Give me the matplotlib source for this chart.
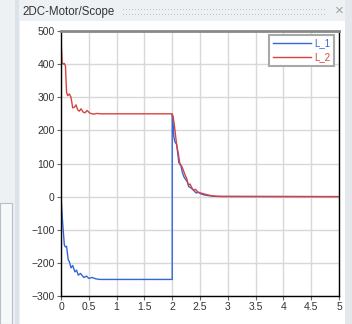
import numpy as np
import matplotlib
matplotlib.use("Agg")
import matplotlib.pyplot as plt
from matplotlib.patches import Rectangle

plt.rcParams["font.family"] = ["Liberation Sans", "DejaVu Sans"]

# L_1 (blue) current
t1 = [0, 0.03, 0.06, 0.08, 0.10, 0.13, 0.15, 0.18, 0.21, 0.25, 0.28, 0.31, 0.35,
      0.41, 0.46, 0.50, 0.56, 0.62, 0.70, 2.0, 2.0, 2.01, 2.03, 2.05, 2.08, 2.12,
      2.15, 2.18, 2.21, 2.24, 2.27, 2.30, 2.34, 2.38, 2.43, 2.47, 2.52, 2.58, 2.65,
      2.75, 2.9, 5.0]
l1 = [0, -80, -146, -152, -150, -191, -196, -215, -208, -227, -222, -237, -232,
      -244, -240, -247, -244, -248, -250, -250, 248, 240, 180, 165, 158, 102,
      98, 75, 60, 52, 45, 30, 26, 20, 11, 13, 8, 5, 3, 1, 0, 0]

# L_2 (red) current
t2 = [0, 0.005, 0.02, 0.04, 0.06, 0.08, 0.10, 0.12, 0.15, 0.18, 0.21, 0.24, 0.27,
      0.30, 0.33, 0.36, 0.40, 0.43, 0.47, 0.52, 0.58, 0.65, 0.72, 2.0, 2.02, 2.05,
      2.08, 2.11, 2.14, 2.17, 2.20, 2.23, 2.26, 2.29, 2.32, 2.35, 2.38, 2.42, 2.46,
      2.51, 2.56, 2.62, 2.70, 2.80, 5.0]
l2 = [500, 460, 405, 400, 402, 395, 315, 305, 310, 300, 268, 270, 277,
      262, 258, 265, 255, 253, 260, 252, 249, 251, 250, 250, 238, 200,
      156, 130, 96, 92, 80, 66, 55, 35, 38, 28, 20, 22, 14,
      11, 9, 6, 3, 1, 0]

xticks = [0, 0.5, 1, 1.5, 2, 2.5, 3, 3.5, 4, 4.5, 5]
xticklabels = ["0", "0.5", "1", "1.5", "2", "2.5", "3", "3.5", "4", "4.5", "5"]
yticks = [-300, -200, -100, 0, 100, 200, 300, 400, 500]

fig = plt.figure(figsize=(3.52, 3.24), dpi=100)
fig.patch.set_facecolor("white")
W, H = 352, 324

def box(x, y, w, h, **kw):
    # rectangle in pixel coords, y from top, kept behind the axes
    fig.patches.append(Rectangle((x / W, 1 - (y + h) / H), w / W, h / H,
                                 transform=fig.transFigure, figure=fig,
                                 zorder=-5, **kw))

# window chrome
box(0, 0, 352, 324, facecolor="#eef1f4", edgecolor="none")
box(20, 21, 325, 303, facecolor="white", edgecolor="none")
box(15, 0, 4, 324, facecolor="#dbe3ea", edgecolor="none")
box(0, 203, 12, 121, facecolor="#f7f8f9", edgecolor="#b8bec4", linewidth=0.8)
box(345, 0, 7, 324, facecolor="#e4e8ec", edgecolor="none")
fig.text(22 / W, 1 - 12 / H, "2DC-Motor/Scope", fontsize=8.3, color="#333333",
         va="center", ha="left")
fig.text(122 / W, 1 - 12 / H, ":" * 68, fontsize=8, color="#b0b0b0",
         va="center", ha="left")
fig.text(339 / W, 1 - 11 / H, "\u00d7", fontsize=11, color="#a0a0a0",
         va="center", ha="center")

ax = fig.add_axes([61 / W, 1 - 296 / H, 278 / W, 265 / H])
ax.set_facecolor("white")
ax.plot(t1, l1, color="#3366d6", linewidth=1.0, label="L_1")
ax.plot(t2, l2, color="#d8423c", linewidth=1.0, label="L_2")

ax.set_xlim(0, 5)
ax.set_ylim(-300, 500)
ax.set_xticks(xticks)
ax.set_xticklabels(xticklabels)
ax.set_yticks(yticks)
ax.grid(True, color="#d8d8d8", linewidth=1.0)
ax.set_axisbelow(True)
ax.tick_params(labelsize=7.5, labelcolor="#333333", color="#666666",
               length=3, width=0.8, pad=1.5)
for side in ["left", "right", "bottom"]:
    ax.spines[side].set_color("black")
    ax.spines[side].set_linewidth(1.0)
ax.spines["top"].set_color("#8a8a8a")
ax.spines["top"].set_linewidth(2.0)

leg = ax.legend(loc="upper right", fontsize=7, handlelength=4.0,
                labelspacing=0.45, borderpad=0.35, handletextpad=0.3,
                fancybox=False, framealpha=1, edgecolor="#a8a8a8",
                bbox_to_anchor=(0.985, 0.99), borderaxespad=0.1)
leg.get_frame().set_linewidth(1.5)
for text, line in zip(leg.get_texts(), leg.get_lines()):
    text.set_color(line.get_color())

fig.savefig("out.png", dpi=100)
